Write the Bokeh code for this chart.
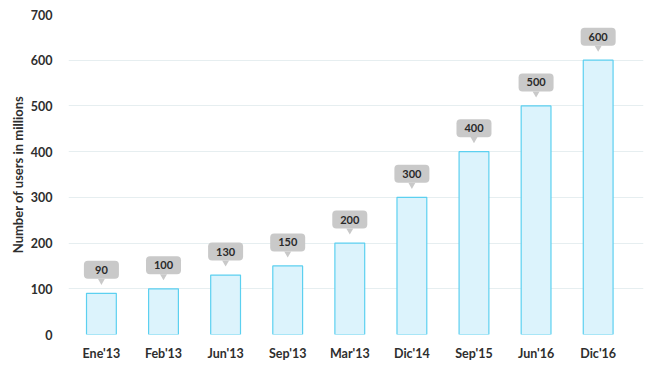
from bokeh.plotting import figure
from bokeh.models import FixedTicker, Range1d, ColumnDataSource
from bokeh.core.properties import value
from bokeh.embed import file_html
from bokeh.resources import INLINE

categories = ["Ene'13", "Feb'13", "Jun'13", "Sep'13", "Mar'13", "Dic'14", "Sep'15", "Jun'16", "Dic'16"]
users = [90, 100, 130, 150, 200, 300, 400, 500, 600]
y_ticks = [0, 100, 200, 300, 400, 500, 600, 700]

FONT = "Lato"
frame_h = 320
ymax = 700
px = ymax / frame_h  # data units per pixel

xs = list(range(len(categories)))
src = ColumnDataSource(dict(
    x=xs, top=users, label=[str(u) for u in users],
    box_y=[u + 23.5 * px for u in users],
    tri_y=[u + 12.5 * px for u in users],
))

p = figure(frame_width=575, frame_height=frame_h, output_backend="svg", toolbar_location=None,
           x_range=Range1d(-0.53, 8.73), y_range=Range1d(0, ymax),
           min_border_left=68, min_border_top=14, min_border_right=1, min_border_bottom=20)
p.outline_line_color = None
p.background_fill_color = "white"

p.vbar(x="x", top="top", width=0.48, source=src, fill_color="#dcf3fc", line_color="#5cd0f0", line_width=1.2)

p.scatter(x="x", y="tri_y", source=src, marker="inverted_triangle", size=7,
          fill_color="#c9c9c9", line_color=None)
p.rect(x="x", y="box_y", width=35, height=18, width_units="screen", height_units="screen",
       source=src, fill_color="#c9c9c9", line_color=None, border_radius=4)
p.text(x="x", y="box_y", text="label", source=src, text_align="center", text_baseline="middle",
       text_font=value(FONT), text_font_style="bold", text_font_size="11px", text_color="#2a2a2a")

p.xaxis.ticker = FixedTicker(ticks=xs)
p.xaxis.major_label_overrides = {i: c for i, c in enumerate(categories)}
p.yaxis.ticker = FixedTicker(ticks=y_ticks)
for ax in (p.xaxis, p.yaxis):
    ax.axis_line_color = None
    ax.major_tick_line_color = None
    ax.minor_tick_line_color = None
    ax.major_label_text_font = FONT
    ax.major_label_text_font_style = "bold"
    ax.major_label_text_font_size = "12.5px"
    ax.major_label_text_color = "#2e2e2e"
p.yaxis.major_label_standoff = 10
p.xaxis.major_label_standoff = 5
p.yaxis.axis_label = "Number of users in millions"
p.yaxis.axis_label_text_font = FONT
p.yaxis.axis_label_text_font_style = "bold"
p.yaxis.axis_label_text_font_size = "13px"
p.yaxis.axis_label_text_color = "#2e2e2e"
p.yaxis.axis_label_standoff = 2

p.xgrid.grid_line_color = None
p.ygrid.grid_line_color = "#e6eef0"
p.ygrid.grid_line_width = 1

open("out.html", "w").write(file_html(p, INLINE))
